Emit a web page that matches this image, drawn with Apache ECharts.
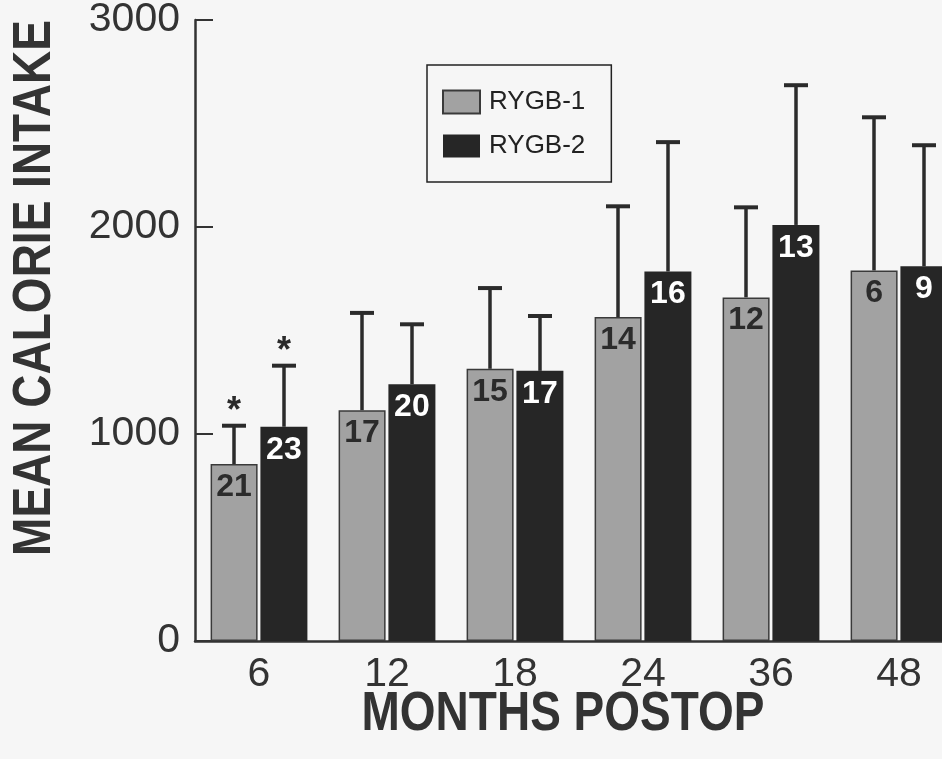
<!DOCTYPE html>
<html>
<head>
<meta charset="utf-8">
<script src="https://cdn.jsdelivr.net/npm/echarts@6/dist/echarts.min.js"></script>
<style>html,body{margin:0;padding:0;background:#f6f6f6;}#chart{width:942px;height:759px;}</style>
</head>
<body>
<div id="chart"></div>
<script>
const categories = ['6', '12', '18', '24', '36', '48'];
const rygb1Mean = [855, 1115, 1315, 1565, 1660, 1790];
const rygb1SD   = [185, 470, 390, 535, 435, 740];
const rygb1N    = [21, 17, 15, 14, 12, 6];
const rygb1Sig  = ['*', '', '', '', '', ''];
const rygb2Mean = [1035, 1240, 1305, 1785, 2010, 1810];
const rygb2SD   = [295, 290, 265, 625, 675, 585];
const rygb2N    = [23, 20, 17, 16, 13, 9];
const rygb2Sig  = ['*', '', '', '', '', ''];
const yTicks = [0, 1000, 2000, 3000];
const seriesNames = ['RYGB-1', 'RYGB-2'];
const xTitle = 'MONTHS POSTOP';
const yTitle = 'MEAN CALORIE INTAKE';

const FONT = '"Liberation Sans", Arial, Helvetica, sans-serif';
const INK = '#2b2b2b';

function errSeries(name, means, sds, sig, offset) {
  return {
    type: 'custom',
    name: name + ' SD',
    silent: true,
    z: 5,
    data: means.map((m, i) => [i, m, m + sds[i]]),
    renderItem(params, api) {
      const i = api.value(0);
      const p0 = api.coord([i, api.value(1)]);
      const p1 = api.coord([i, api.value(2)]);
      const x = p0[0] + offset;
      const children = [
        { type: 'line', shape: { x1: x, y1: p0[1], x2: x, y2: p1[1] }, style: { stroke: INK, lineWidth: 3.5 } },
        { type: 'line', shape: { x1: x - 12, y1: p1[1], x2: x + 12, y2: p1[1] }, style: { stroke: INK, lineWidth: 4 } }
      ];
      const s = sig[params.dataIndex];
      if (s) {
        children.push({ type: 'text', x: x, y: p1[1] - 14,
          style: { text: s, fill: INK, font: 'bold 36px ' + FONT, align: 'center', verticalAlign: 'middle' } });
      }
      return { type: 'group', children };
    }
  };
}

const chart = echarts.init(document.getElementById('chart'), null, { renderer: 'canvas' });
chart.setOption({
  backgroundColor: '#f6f6f6',
  animation: false,
  textStyle: { fontFamily: FONT },
  grid: { left: 195, top: 20, width: 768, bottom: 118, containLabel: false, outerBoundsMode: 'none' },
  legend: {
    data: seriesNames,
    orient: 'vertical',
    left: 427, top: 65,
    padding: [24, 26, 23, 15],
    itemWidth: 37, itemHeight: 23, itemGap: 18,
    borderColor: '#222', borderWidth: 1.5,
    icon: 'rect',
    textStyle: { fontSize: 26, color: '#222', lineHeight: 23, padding: [0, 0, 0, 4], fontFamily: FONT }
  },
  xAxis: {
    type: 'category',
    data: categories,
    axisLine: { lineStyle: { color: '#333', width: 2.5 } },
    axisTick: { show: false },
    axisLabel: { fontSize: 41, color: '#333', margin: 13, fontFamily: FONT }
  },
  yAxis: {
    type: 'value',
    min: yTicks[0], max: yTicks[yTicks.length - 1], interval: 1000,
    axisLine: { show: true, lineStyle: { color: '#333', width: 2.5 } },
    axisTick: { show: true, inside: true, length: 18, lineStyle: { color: '#333', width: 2 } },
    splitLine: { show: false },
    axisLabel: { fontSize: 41, color: '#333', margin: 15, fontFamily: FONT, formatter: v => String(v) }
  },
  graphic: [
    { type: 'text', x: 563, y: 715, scaleY: 1.2, style: { text: xTitle, font: 'bold 46px ' + FONT, fill: '#333', align: 'center', verticalAlign: 'middle' } },
    { type: 'text', x: 35, y: 288, rotation: Math.PI / 2, scaleY: 1.15, style: { text: yTitle, font: 'bold 46px ' + FONT, fill: '#333', align: 'center', verticalAlign: 'middle' } }
  ],
  series: [
    {
      type: 'bar', name: seriesNames[0], data: rygb1Mean,
      barWidth: 47, barGap: '6%',
      itemStyle: { color: '#a2a2a2', borderColor: '#3a3a3a', borderWidth: 1.5 },
      label: { show: true, position: 'insideTop', distance: 7, fontSize: 32, fontWeight: 'bold', color: '#2b2b2b',
        formatter: p => String(rygb1N[p.dataIndex]) }
    },
    {
      type: 'bar', name: seriesNames[1], data: rygb2Mean,
      barWidth: 47, barGap: '6%',
      itemStyle: { color: '#262626' },
      label: { show: true, position: 'insideTop', distance: 7, fontSize: 32, fontWeight: 'bold', color: '#ffffff',
        formatter: p => String(rygb2N[p.dataIndex]) }
    },
    errSeries(seriesNames[0], rygb1Mean, rygb1SD, rygb1Sig, -25),
    errSeries(seriesNames[1], rygb2Mean, rygb2SD, rygb2Sig, 25)
  ]
});
</script>
</body>
</html>
